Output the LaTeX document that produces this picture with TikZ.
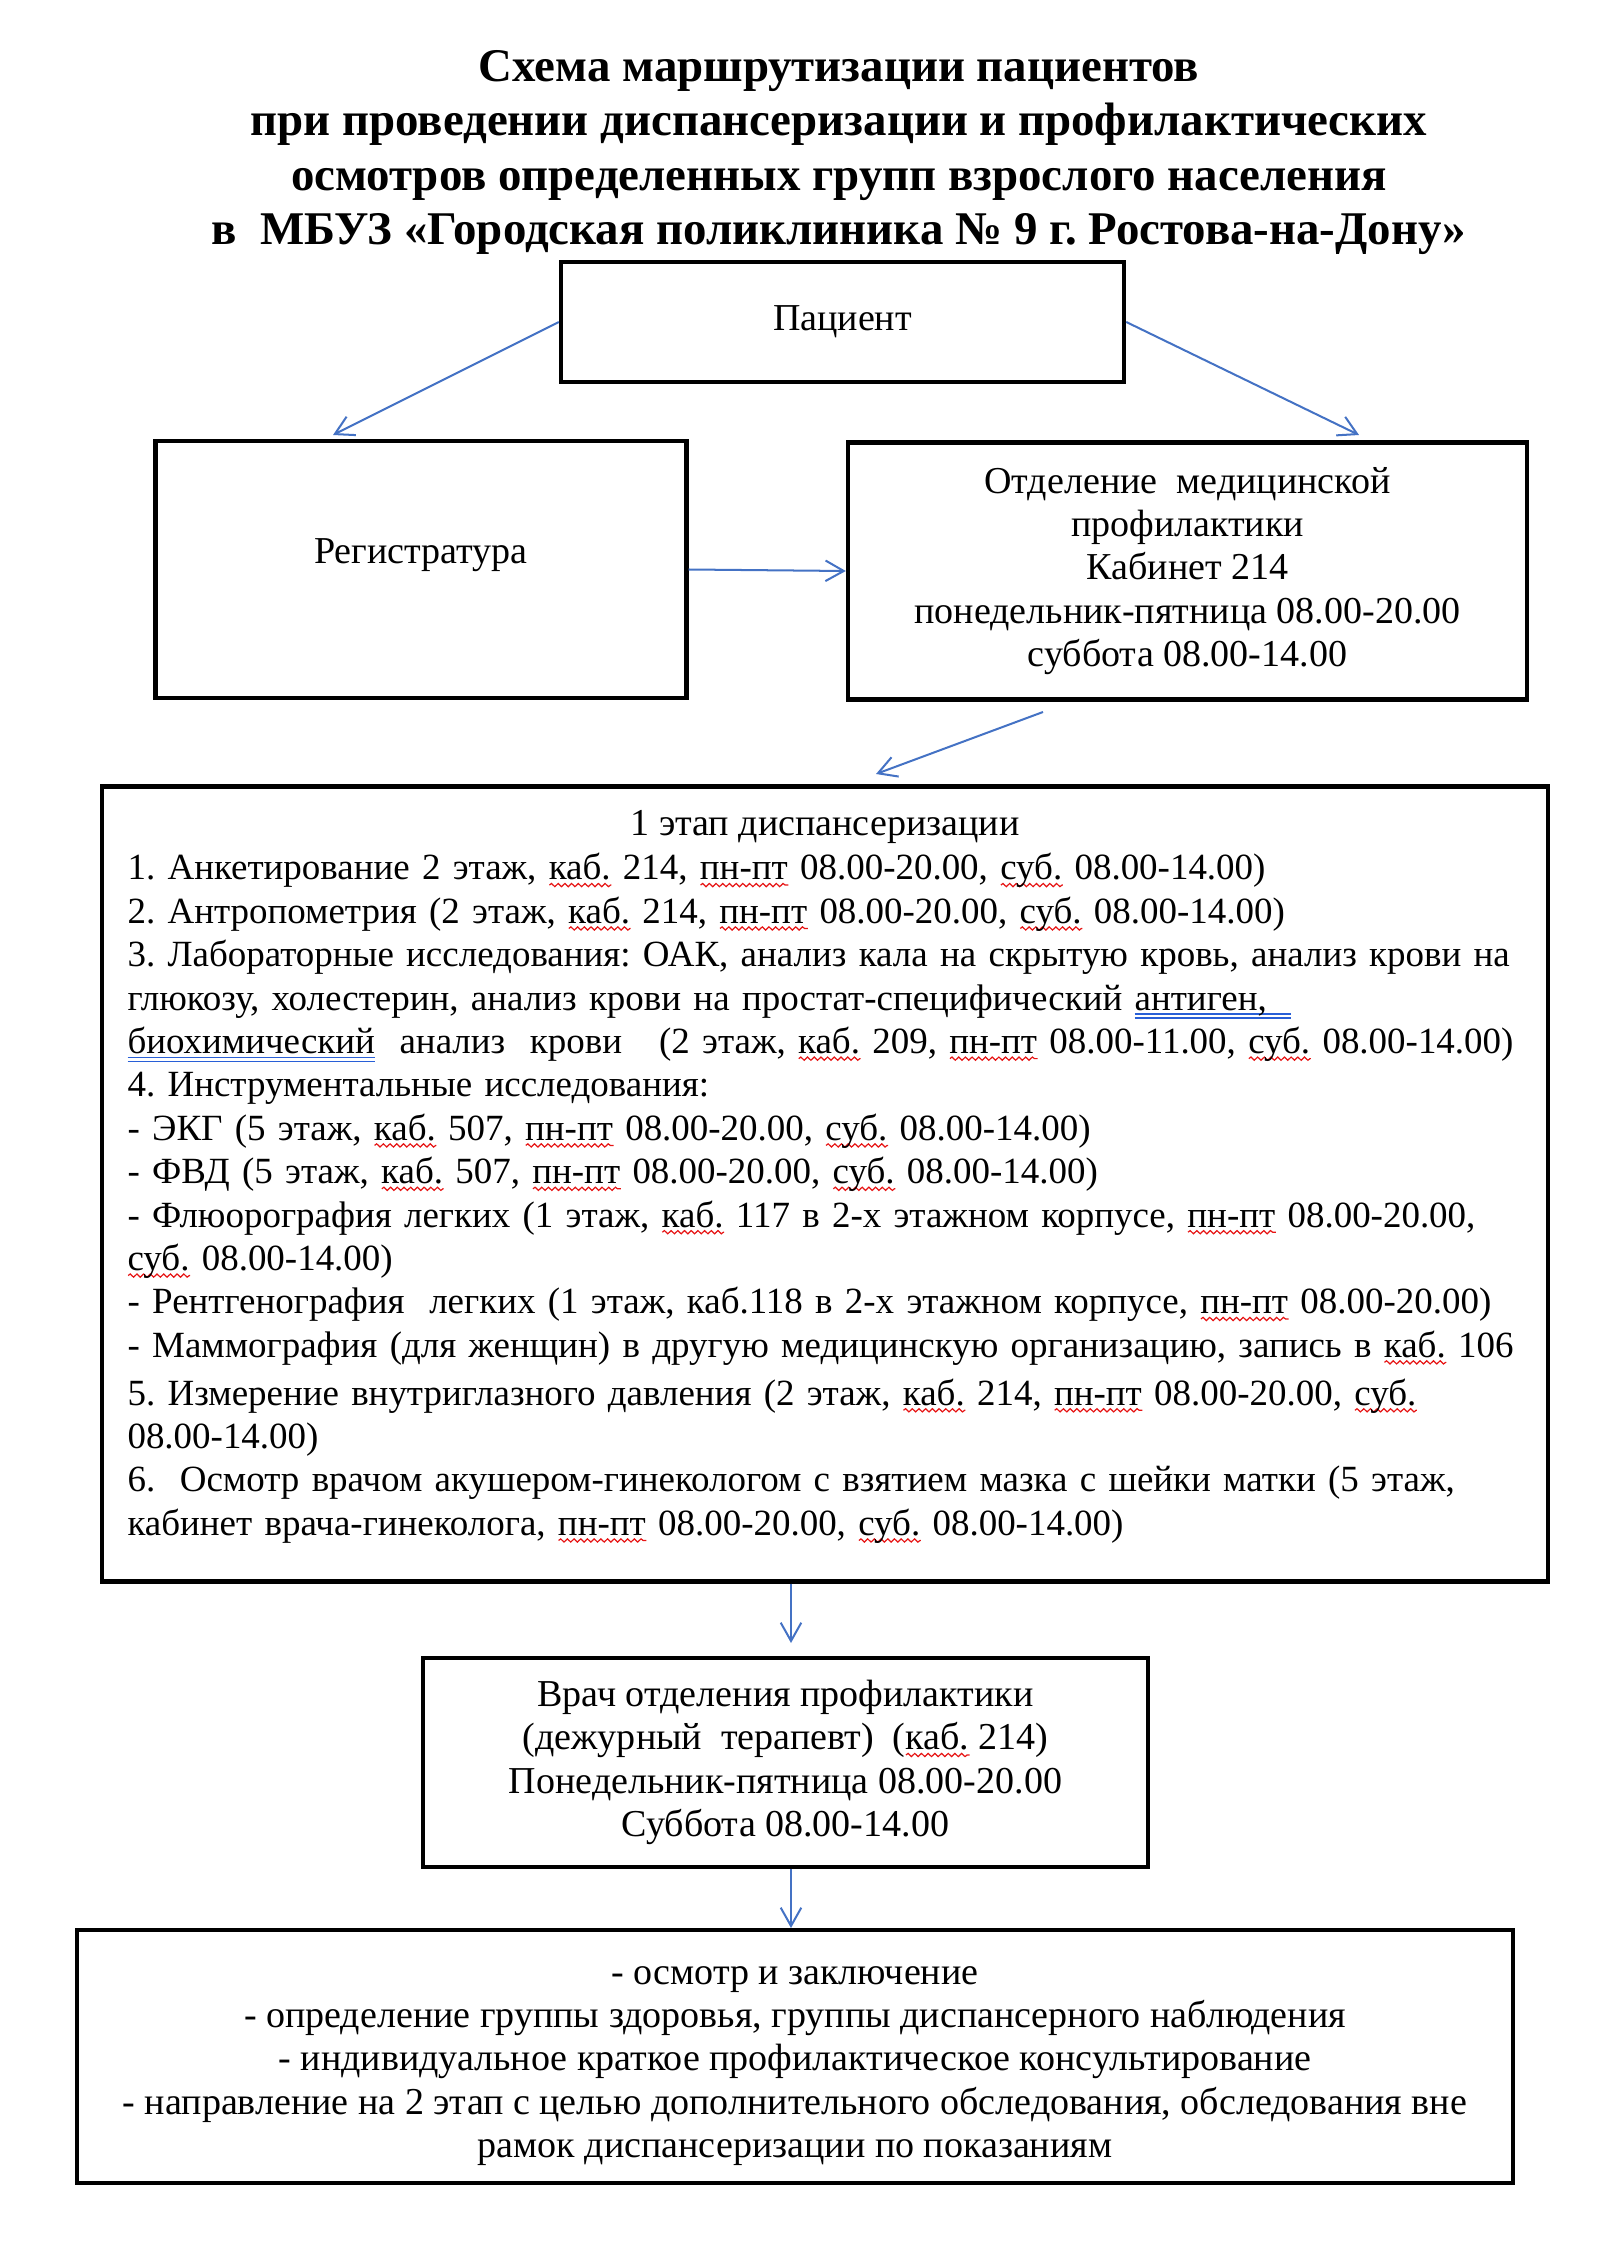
\documentclass[tikz,border=0pt]{standalone}
\usepackage{fontspec}
\setmainfont{Liberation Serif}
\frenchspacing
\usetikzlibrary{arrows.meta,calc,decorations.pathmorphing}
\definecolor{flowblue}{RGB}{68,114,196}
\definecolor{spellred}{RGB}{230,20,20}
\definecolor{gramblue}{RGB}{40,95,215}
% spelling and grammar marks
\newsavebox\sqbox
\newlength\sqwd
\newcommand\sq[1]{\leavevmode\sbox\sqbox{#1}\setlength\sqwd{\wd\sqbox}\rlap{\smash{\tikz[baseline=0pt]\draw[spellred,line width=.45pt,decorate,decoration={snake,amplitude=.6pt,segment length=2.5pt}] (0pt,-1.9pt) -- (\sqwd,-1.9pt);}}\usebox\sqbox}
\newcommand\dul[1]{\leavevmode\sbox\sqbox{#1}\setlength\sqwd{\wd\sqbox}\rlap{\smash{\textcolor{gramblue}{\rule[-1.8pt]{\sqwd}{.6pt}\llap{\rule[-3.3pt]{\sqwd}{.6pt}}}}}\usebox\sqbox}
\begin{document}
\begin{tikzpicture}[x=0.013125cm,y=-0.013125cm,
  txt/.style={inner sep=0pt,font=\fontsize{14.2}{16.2}\selectfont},
  box/.style={txt,draw,line width=1.6pt,align=center},
  flow/.style={flowblue,line width=0.75pt,-{Straight Barb[length=2.4mm,width=2.7mm]}}]

\useasboundingbox (0,0) rectangle (1600,2258);

\node at (839,50) [anchor=north,inner sep=0pt,align=center,font=\bfseries\fontsize{17.5}{20.3}\selectfont] (title) {Схема маршрутизации пациентов\\
при проведении диспансеризации и профилактических\\
осмотров определенных групп взрослого населения\\
в\ \ МБУЗ «Городская поликлиника № 9 г. Ростова-на-Дону»};

\node at (842.5,322) [box,minimum width=7.39cm,minimum height=1.575cm] (pat) {Пациент};
\node at (421,569.5) [box,minimum width=6.969cm,minimum height=3.373cm] (reg) {};
\node at (421,555) [txt] (regtext) {Регистратура};
\node at (1187.5,571) [box,minimum width=8.912cm,minimum height=3.373cm] (otd) {Отделение\ \ медицинской\\
профилактики\\
Кабинет 214\\
понедельник-пятница 08.00-20.00\\
суббота 08.00-14.00};

\node at (825,1184) [box,minimum width=18.98cm,minimum height=10.434cm] (stage) {};
\node at (825,835) [txt,anchor=base] (stagehead) {1 этап диспансеризации};
\node at (127,853) [txt,font=\fontsize{13.8}{16.2}\selectfont,anchor=north west,align=left,text width=18.6cm] (stagelist) {1. Анкетирование 2 этаж, \sq{каб.} 214, \sq{пн-пт} 08.00-20.00, \sq{суб.} 08.00-14.00)\\
2. Антропометрия (2 этаж, \sq{каб.} 214, \sq{пн-пт} 08.00-20.00, \sq{суб.} 08.00-14.00)\\
3. Лабораторные исследования: ОАК, анализ кала на скрытую кровь, анализ крови на\\
глюкозу, холестерин, анализ крови на простат-специфический \dul{антиген,\ \ }\\
\dul{биохимический}\ \ анализ\ \ крови\ \ \ (2 этаж, \sq{каб.} 209, \sq{пн-пт} 08.00-11.00, \sq{суб.} 08.00-14.00)\\
4. Инструментальные исследования:\\
- ЭКГ (5 этаж, \sq{каб.} 507, \sq{пн-пт} 08.00-20.00, \sq{суб.} 08.00-14.00)\\
- ФВД (5 этаж, \sq{каб.} 507, \sq{пн-пт} 08.00-20.00, \sq{суб.} 08.00-14.00)\\
- Флюорография легких (1 этаж, \sq{каб.} 117 в 2-х этажном корпусе, \sq{пн-пт} 08.00-20.00,\\
\sq{суб.} 08.00-14.00)\\
- Рентгенография\ \ легких (1 этаж, каб.118 в 2-х этажном корпусе, \sq{пн-пт} 08.00-20.00)\\
- Маммография (для женщин) в другую медицинскую организацию, запись в \sq{каб.} 106\\[1.7pt]
5. Измерение внутриглазного давления (2 этаж, \sq{каб.} 214, \sq{пн-пт} 08.00-20.00, \sq{суб.}\\
08.00-14.00)\\
6.\ \ Осмотр врачом акушером-гинекологом с взятием мазка с шейки матки (5 этаж,\\
кабинет врача-гинеколога, \sq{пн-пт} 08.00-20.00, \sq{суб.} 08.00-14.00)};

\node at (785.5,1762.5) [box,minimum width=9.516cm,minimum height=2.743cm] (vrach) {Врач отделения профилактики\\
(дежурный\ \ терапевт)\ \ (\sq{каб.} 214)\\
Понедельник-пятница 08.00-20.00\\
Суббота 08.00-14.00};

\node at (795,2056.5) [box,minimum width=18.85cm,minimum height=3.32cm] (final) {};
\node at (795,2066) [txt,align=center] (finaltext) {- осмотр и заключение\\
- определение группы здоровья, группы диспансерного наблюдения\\
- индивидуальное краткое профилактическое консультирование\\
- направление на 2 этап с целью дополнительного обследования, обследования вне\\
рамок диспансеризации по показаниям};

\coordinate (regin) at (333,435);
\coordinate (otdin) at (1359,435);
\coordinate (otdout) at (1043,712);
\coordinate (stagein) at (876,774);
\coordinate (vrachin) at (791,1643);
\coordinate (finalin) at (791,1928);

\draw[flow] (pat.west) -- (regin);
\draw[flow] (pat.east) -- (otdin);
\draw[flow] (reg.east) -- (otd.west);
\draw[flow] (otdout) -- (stagein);
\draw[flow] (stage.south -| vrachin) -- (vrachin);
\draw[flow] (vrach.south -| finalin) -- (finalin);

\end{tikzpicture}
\end{document}
